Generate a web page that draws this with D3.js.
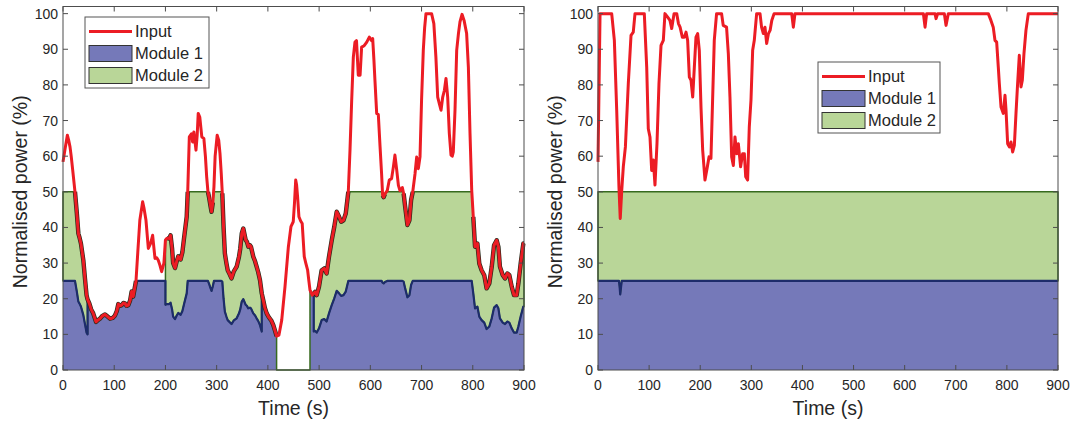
<!DOCTYPE html>
<html>
<head>
<meta charset="utf-8">
<script src="https://cdn.jsdelivr.net/npm/d3@7"></script>
<style>
  body { margin: 0; background: #fff; }
  text { font-family: "Liberation Sans", Arial, sans-serif; fill: #262626; }
</style>
</head>
<body>
<svg id="chart" width="1073" height="423"></svg>
<script>
// ---- data (left panel) ----
var timeL = [0, 4, 8.5, 11, 13.7, 16, 19, 23.4, 27, 30,
  32, 35, 39.7, 43, 46, 48, 48, 51.4, 55, 59,
  64.4, 68, 72, 77, 82, 87, 91.8, 97, 101.5, 105,
  108, 111, 114.6, 118, 121, 124, 127.5, 131, 134, 137,
  140, 142.5, 146, 150, 155.5, 158, 162, 166.6, 171, 175,
  179.6, 183, 186, 189, 192.6, 197, 200, 200, 203, 207.5,
  210, 213, 215, 218.7, 222, 225, 229.6, 233, 236, 241.5,
  243.5, 246.6, 251, 253, 255.5, 259.6, 262, 264, 267, 271,
  275, 278, 280.5, 283, 285.6, 288, 290, 292.5, 294.7, 297,
  301, 304, 306.5, 309, 311, 313.5, 316, 319, 321.5, 325,
  329, 333.5, 339, 343.6, 346, 349, 352, 356.6, 359, 361.8,
  365, 367, 371.5, 375, 378, 381, 384.6, 388, 388, 391,
  394, 397.6, 401, 404, 407, 410.6, 414, 417, 417, 421.6,
  427, 433.4, 440, 445, 449.5, 452, 454.3, 456, 458, 460.6,
  464, 467, 471, 474, 477.6, 480, 482.2, 482.2, 486.7, 489.5,
  489.5, 492, 495.3, 499.8, 505, 510, 514.6, 519.3, 524.6, 529.6,
  534.3, 539, 543, 547.6, 552, 557, 560.3, 563.6, 566.8, 570,
  573, 576.5, 580, 583, 588, 593, 598, 602.5, 604.6, 607,
  609, 612.4, 615.6, 619, 622, 624, 626, 628.5, 633, 637,
  641.5, 645, 648, 651.6, 654.8, 658, 662.5, 665, 668, 672.4,
  676.3, 679.6, 682.8, 687.2, 690.5, 693.7, 697, 700, 703.4, 706,
  708.6, 719.6, 724, 728, 731.5, 734.8, 738, 741.3, 744.6, 747.7,
  751, 754.2, 757.5, 760, 762, 765.3, 768.6, 772, 775, 779,
  783, 788, 791.4, 794.6, 797.9, 801, 804.4, 809, 812.7, 817.2,
  822.4, 827, 832.3, 837, 841.5, 846.7, 850, 853, 858.5, 863,
  867.5, 871.4, 876, 880.5, 885.7, 889, 893.5, 898.7, 900];

var inputL = [58.4, 62, 65.9, 64.5, 62.6, 60, 56, 50, 44, 38.3,
  37.3, 35.5, 30.8, 25.5, 21, 19.8, 19.8, 18.7, 17, 15.9,
  13.5, 14, 14.4, 15.2, 15.6, 15, 14.4, 14.6, 15.3, 16.5,
  18.5, 18, 18.2, 18.8, 18.7, 18, 18.2, 19.5, 22, 20.6,
  23, 25, 33, 42, 47.2, 45.5, 42, 34.1, 35.5, 37.8,
  31.3, 31.5, 30.8, 29.5, 27.6, 30, 36.5, 36.5, 37, 36.9,
  37.8, 34, 30, 28.6, 30.5, 31.9, 31, 33, 36.6, 43,
  50, 65.4, 66.3, 64, 66.8, 61.7, 66, 72, 71, 65.4,
  65, 60, 54.2, 50, 48.1, 46, 44.4, 47, 51.4, 60,
  65.9, 64.5, 60.7, 55, 49.6, 40, 32.7, 30, 28, 27,
  25.7, 27.7, 29, 31.8, 34, 38.3, 39.7, 36.5, 36, 34.6,
  35, 34.6, 31.8, 30.5, 29, 27.5, 25.2, 21.5, 21.5, 19.6,
  17.5, 15.9, 15, 14.4, 13.8, 12.6, 11, 9.5, 9.5, 9.8,
  14, 23.4, 34.6, 40.2, 41.6, 47, 53.3, 52, 48.6, 43,
  41.8, 41.1, 31.8, 30, 28, 25, 22.4, 22.4, 21, 21.5,
  21.5, 21.9, 21, 23.4, 28, 28.5, 27.1, 31.8, 36.4, 40.2,
  44.4, 43, 41.6, 42, 43.9, 50, 61.7, 75.7, 87.8, 92,
  92.4, 82.7, 82.7, 90.6, 91, 92, 93.4, 92.4, 93, 87,
  81.3, 72, 71.7, 62.6, 55, 49, 48.5, 49.4, 50.3, 53.3,
  53.7, 57, 60.3, 56, 51.8, 50.3, 51.2, 49.5, 45.8, 40.7,
  42, 47.7, 50, 55, 59.8, 56.5, 59.8, 75.7, 89.7, 96,
  100, 100, 97.2, 87.8, 76.6, 74.7, 72.9, 76.6, 78.5, 81.8,
  76.6, 66.4, 60.3, 60, 61.2, 72.9, 89.7, 94.4, 97.7, 99.8,
  98.1, 94.4, 85, 66.4, 50.5, 43, 34.6, 35.5, 29.9, 28,
  26.6, 22.9, 24.3, 29, 35, 36.4, 34.6, 29, 26.6, 25.7,
  27.1, 26.6, 23.4, 21, 21, 24.3, 29.9, 35.5, 35.5];

var module1L = [25, 25, 25, 25, 25, 25, 25, 25, 22, 19.2,
  18.7, 17.8, 15.4, 12.8, 10.5, 10, 19.8, 18.7, 17, 15.9,
  13.5, 14, 14.4, 15.2, 15.6, 15, 14.4, 14.6, 15.3, 16.5,
  18.5, 18, 18.2, 18.8, 18.7, 18, 18.2, 19.5, 22, 20.6,
  23, 25, 25, 25, 25, 25, 25, 25, 25, 25,
  25, 25, 25, 25, 25, 25, 25, 18.3, 18.5, 18.5,
  18.9, 17, 15, 14.3, 15.3, 16, 15.5, 16.5, 18.3, 21.5,
  25, 25, 25, 25, 25, 25, 25, 25, 25, 25,
  25, 25, 25, 25, 24, 23, 22.2, 23.5, 25, 25,
  25, 25, 25, 25, 24.8, 20, 16.4, 15, 14, 13.5,
  12.9, 13.9, 14.5, 15.9, 17, 19.2, 19.9, 18.3, 18, 17.3,
  17.5, 17.3, 15.9, 15.3, 14.5, 13.8, 12.6, 10.8, 21.5, 19.6,
  17.5, 15.9, 15, 14.4, 13.8, 12.6, 11, 9.5, 0, 0,
  0, 0, 0, 0, 0, 0, 0, 0, 0, 0,
  0, 0, 0, 0, 0, 0, 0, 22.4, 21, 21.5,
  10.8, 11, 10.5, 11.7, 14, 14.3, 13.6, 15.9, 18.2, 20.1,
  22.2, 21.5, 20.8, 21, 22, 25, 25, 25, 25, 25,
  25, 25, 25, 25, 25, 25, 25, 25, 25, 25,
  25, 25, 25, 25, 25, 24.5, 24.3, 24.7, 25, 25,
  25, 25, 25, 25, 25, 25, 25, 24.8, 22.9, 20.4,
  21, 23.9, 25, 25, 25, 25, 25, 25, 25, 25,
  25, 25, 25, 25, 25, 25, 25, 25, 25, 25,
  25, 25, 25, 25, 25, 25, 25, 25, 25, 25,
  25, 25, 25, 25, 25, 21.5, 17.3, 17.8, 15, 14,
  13.3, 11.5, 12.2, 14.5, 17.5, 18.2, 17.3, 14.5, 13.3, 12.9,
  13.6, 13.3, 11.7, 10.5, 10.5, 12.2, 15, 17.8, 17.8];

var module2L = [25, 25, 25, 25, 25, 25, 25, 25, 22, 19.1,
  18.6, 17.7, 15.4, 12.7, 10.5, 9.8, 0, 0, 0, 0,
  0, 0, 0, 0, 0, 0, 0, 0, 0, 0,
  0, 0, 0, 0, 0, 0, 0, 0, 0, 0,
  0, 0, 0, 0, 0, 0, 0, 0, 0, 0,
  0, 0, 0, 0, 0, 0, 0, 18.2, 18.5, 18.4,
  18.9, 17, 15, 14.3, 15.2, 15.9, 15.5, 16.5, 18.3, 21.5,
  25, 25, 25, 25, 25, 25, 25, 25, 25, 25,
  25, 25, 25, 25, 24.1, 23, 22.2, 23.5, 25, 25,
  25, 25, 25, 25, 24.8, 20, 16.3, 15, 14, 13.5,
  12.8, 13.8, 14.5, 15.9, 17, 19.1, 19.8, 18.2, 18, 17.3,
  17.5, 17.3, 15.9, 15.2, 14.5, 13.7, 12.6, 10.7, 0, 0,
  0, 0, 0, 0, 0, 0, 0, 0, 0, 0,
  0, 0, 0, 0, 0, 0, 0, 0, 0, 0,
  0, 0, 0, 0, 0, 0, 0, 0, 0, 0,
  10.7, 10.9, 10.5, 11.7, 14, 14.2, 13.5, 15.9, 18.2, 20.1,
  22.2, 21.5, 20.8, 21, 21.9, 25, 25, 25, 25, 25,
  25, 25, 25, 25, 25, 25, 25, 25, 25, 25,
  25, 25, 25, 25, 25, 24.5, 24.2, 24.7, 25, 25,
  25, 25, 25, 25, 25, 25, 25, 24.7, 22.9, 20.3,
  21, 23.8, 25, 25, 25, 25, 25, 25, 25, 25,
  25, 25, 25, 25, 25, 25, 25, 25, 25, 25,
  25, 25, 25, 25, 25, 25, 25, 25, 25, 25,
  25, 25, 25, 25, 25, 21.5, 17.3, 17.7, 14.9, 14,
  13.3, 11.4, 12.1, 14.5, 17.5, 18.2, 17.3, 14.5, 13.3, 12.8,
  13.5, 13.3, 11.7, 10.5, 10.5, 12.1, 14.9, 17.7, 17.7];

// ---- data (right panel) ----
var timeR = [0, 4, 26.8, 32, 36.6, 41, 43.5, 46.5, 49.5, 53.6,
  59.3, 64.6, 69, 72.4, 90.6, 95.3, 98.4, 101.7, 105, 108.3,
  111.5, 115.4, 119.3, 123.3, 127.8, 131, 136.3, 140.8, 144.2, 148.8,
  154, 157.4, 160.6, 165, 169, 172.2, 175.4, 178.7, 182, 185.3,
  188.5, 191.7, 195, 198.2, 201.5, 204.8, 209.3, 213.9, 217.2, 221,
  224.2, 227.5, 232, 241.8, 245, 251.5, 255, 258.2, 261.5, 264.8,
  268, 271.3, 274.6, 279, 283, 286.3, 289, 292.7, 296, 299.3,
  302.6, 305.8, 310.4, 317, 320, 323.5, 326.7, 330, 333.5, 336.7,
  340, 344.5, 379, 382.2, 385.4, 636.6, 639.9, 643, 659.5, 661.4,
  664.6, 677.6, 680.9, 685.4, 763.6, 768.8, 773.3, 776.7, 780, 783.2,
  785.2, 788.5, 793, 796.3, 798.3, 801.5, 804.8, 808, 811.3, 814.6,
  817.8, 821, 824.3, 827.6, 830.2, 833.4, 837.3, 841.9, 900];

var inputR = [58.4, 100, 100, 92.5, 72.9, 51.4, 42.5, 50.5, 57, 62.6,
  80.4, 93.9, 94.8, 100, 100, 85, 67.7, 65.4, 56, 58.9,
  51.9, 63.5, 80.4, 91.1, 92.5, 100, 99, 98.1, 95.8, 100,
  100, 97.2, 96.2, 93.4, 93.4, 94.8, 92.5, 82.2, 81.3, 76.6,
  85, 93.4, 94.4, 89.7, 73.8, 61.7, 53.3, 57, 59.8, 59.4,
  75.7, 92.5, 100, 100, 96.7, 96.2, 88.8, 76.6, 59.8, 57.4,
  65.4, 60.7, 63.5, 57, 60.7, 60.7, 54.2, 53.3, 68.2, 75.7,
  89.7, 92.5, 100, 100, 96.2, 94.4, 96.2, 91.6, 94.4, 95.3,
  98.1, 100, 100, 96.2, 100, 100, 96.2, 100, 100, 98.6,
  100, 100, 96.7, 100, 100, 98.1, 96.2, 92.5, 92, 85,
  80.4, 73.8, 72, 77.1, 72.9, 63.5, 62.6, 64, 61.2, 63,
  72, 80.4, 88.3, 79.4, 81.3, 88.8, 95.3, 100, 100];

var timeRM = [0, 41, 42.3, 43.5, 45, 46.4, 900];
var module1R = [25, 25, 23.4, 21.2, 23.2, 25, 25];
var module2R = [25, 25, 23.4, 21.2, 23.2, 25, 25];

var xTicks = [0, 100, 200, 300, 400, 500, 600, 700, 800, 900];
var yTicks = [0, 10, 20, 30, 40, 50, 60, 70, 80, 90, 100];
var legendLabels = ['Input', 'Module 1', 'Module 2'];

// ---- style ----
var colInput = '#ec1c24', colM1 = '#7579b9', colM2 = '#b9d698';
var edgeM1 = '#1d2c6b', edgeM2 = '#376a1f', axisCol = '#4d4d4d';

var svg = d3.select('#chart');
svg.append('rect').attr('width', 1073).attr('height', 423).attr('fill', '#fff');

function drawPanel(opt) {
	var x = d3.scaleLinear().domain([0, 900]).range([opt.left, opt.right]);
	var y = d3.scaleLinear().domain([0, 102]).range([370, 6.5]);
	var g = svg.append('g');

	// stacked areas
	var stack = opt.tm.map(function(t, i) {
		return {t: t, a: opt.m1[i], b: opt.m1[i] + opt.m2[i]};
	});
	var area1 = d3.area().x(function(d) { return x(d.t); })
		.y0(y(0)).y1(function(d) { return y(d.a); });
	var area2 = d3.area().x(function(d) { return x(d.t); })
		.y0(function(d) { return y(d.a); }).y1(function(d) { return y(d.b); });

	g.append('path').datum(stack).attr('d', area1).attr('fill', colM1);
	g.append('path').datum(stack).attr('d', area2)
		.attr('fill', colM2).attr('stroke', edgeM2).attr('stroke-width', 1.5)
		.attr('stroke-linejoin', 'round');

	// module 1 top edge drawn over the green base
	var topLine = d3.line().defined(function(d) { return d.a > 0; })
		.x(function(d) { return x(d.t); }).y(function(d) { return y(d.a); });
	g.append('path').datum(stack).attr('d', topLine)
		.attr('fill', 'none').attr('stroke', edgeM1).attr('stroke-width', 2.2)
		.attr('stroke-linejoin', 'round');

	var pts = opt.t.map(function(t, i) { return {t: t, v: opt.input[i]}; });
	var line = d3.line().x(function(d) { return x(d.t); }).y(function(d) { return y(d.v); });

	// dark rim where the input sits on the area top
	var onTop = pts.map(function(d) {
		var i = d3.bisectLeft(opt.tm, d.t);
		var j = Math.min(i, stack.length - 1);
		var b = stack[j].t === d.t ? stack[j].b : (i > 0 ? d3.interpolateNumber(stack[i - 1].b, stack[j].b)((d.t - stack[i - 1].t) / (stack[j].t - stack[i - 1].t)) : stack[0].b);
		return {t: d.t, v: d.v, on: d.v <= b + 0.05 && b > 0};
	});
	var rim = d3.line().defined(function(d) { return d.on; })
		.x(function(d) { return x(d.t); }).y(function(d) { return y(d.v); });
	g.append('path').datum(onTop).attr('d', rim)
		.attr('fill', 'none').attr('stroke', '#2a2a1a').attr('stroke-width', 4.4)
		.attr('stroke-linejoin', 'round');

	g.append('path').datum(pts).attr('d', line)
		.attr('fill', 'none').attr('stroke', colInput).attr('stroke-width', 3)
		.attr('stroke-linejoin', 'round');

	// box + inward ticks on all four sides
	var ax = svg.append('g');
	ax.append('rect').attr('x', opt.left).attr('y', 6.5)
		.attr('width', opt.right - opt.left).attr('height', 370 - 6.5)
		.attr('fill', 'none').attr('stroke', axisCol).attr('stroke-width', 1);
	xTicks.forEach(function(v) {
		ax.append('line').attr('x1', x(v)).attr('x2', x(v)).attr('y1', 370).attr('y2', 365)
			.attr('stroke', axisCol);
		ax.append('line').attr('x1', x(v)).attr('x2', x(v)).attr('y1', 6.5).attr('y2', 11.5)
			.attr('stroke', axisCol);
		ax.append('text').attr('x', x(v)).attr('y', 390).attr('text-anchor', 'middle')
			.style('font-size', '14px').text(v);
	});
	yTicks.forEach(function(v) {
		ax.append('line').attr('x1', opt.left).attr('x2', opt.left + 5).attr('y1', y(v)).attr('y2', y(v))
			.attr('stroke', axisCol);
		ax.append('line').attr('x1', opt.right).attr('x2', opt.right - 5).attr('y1', y(v)).attr('y2', y(v))
			.attr('stroke', axisCol);
		ax.append('text').attr('x', opt.left - 5).attr('y', y(v)).attr('dy', '0.36em')
			.attr('text-anchor', 'end').style('font-size', '14px').text(v);
	});
	ax.append('text').attr('x', (opt.left + opt.right) / 2).attr('y', 415)
		.attr('text-anchor', 'middle').style('font-size', '19.5px').text('Time (s)');
	ax.append('text')
		.attr('transform', 'translate(' + (opt.left - 43) + ',' + y(50) + ') rotate(-90)')
		.attr('dy', '0.35em').attr('text-anchor', 'middle').style('font-size', '19.5px')
		.text('Normalised power (%)');

	// legend
	var lg = svg.append('g').attr('transform', 'translate(' + opt.legX + ',' + opt.legY + ')');
	lg.append('rect').attr('x', 0).attr('y', 0).attr('width', opt.legW).attr('height', 71)
		.attr('fill', '#fff').attr('stroke', '#555').attr('stroke-width', 1);
	var rows = [14.5, 36.5, 58.5];
	lg.append('line').attr('x1', 4).attr('x2', 47).attr('y1', rows[0]).attr('y2', rows[0])
		.attr('stroke', colInput).attr('stroke-width', 3.2);
	[[colM1, edgeM1], [colM2, edgeM2]].forEach(function(c, i) {
		lg.append('rect').attr('x', 4).attr('y', rows[i + 1] - 8).attr('width', 43).attr('height', 16)
			.attr('fill', c[0]).attr('stroke', '#333').attr('stroke-width', 1);
	});
	legendLabels.forEach(function(s, i) {
		lg.append('text').attr('x', 50).attr('y', rows[i]).attr('dy', '0.36em')
			.style('font-size', '16.5px').text(s);
	});
}

drawPanel({left: 63, right: 524, t: timeL, input: inputL, tm: timeL, m1: module1L, m2: module2L,
	legX: 85, legY: 17, legW: 124});
drawPanel({left: 598, right: 1058, t: timeR, input: inputR, tm: timeRM, m1: module1R, m2: module2R,
	legX: 818, legY: 62, legW: 122});
</script>
</body>
</html>
